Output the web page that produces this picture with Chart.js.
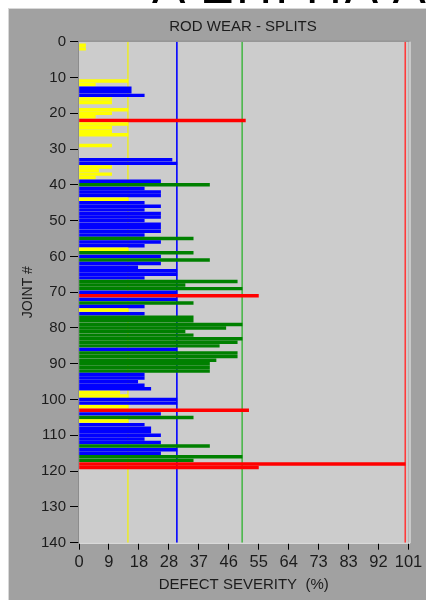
<!DOCTYPE html>
<html>
<head>
<meta charset="utf-8">
<script src="https://cdn.jsdelivr.net/npm/chart.js@4.4.1/dist/chart.umd.min.js"></script>
<style>
  html, body { margin: 0; padding: 0; background: #fff; width: 426px; height: 600px; overflow: hidden; }
  #heading {
    position: absolute; left: 152px; top: -39px;
    font: 50px "Liberation Sans", Arial, sans-serif; line-height: 50px;
    color: #000; white-space: nowrap; letter-spacing: 3px;
  }
  #panel {
    position: absolute; left: 8px; top: 8px; width: 418px; height: 592px;
    background: #a1a1a1; box-shadow: inset 1px 1px 0 #d8d8d8;
  }
  #title {
    position: absolute; left: 135px; top: 9px; width: 200px; text-align: center;
    font: 15px "Liberation Sans", Arial, sans-serif; line-height: 18px; color: #1c1c1c;
  }
  #myChart { position: absolute; left: 0; top: 0; }
</style>
</head>
<body>
<div id="heading">Α ΖΗΓΗΑ ΛΔ</div>
<div id="panel">
  <canvas id="myChart" width="418" height="592"></canvas>
  <div id="title">ROD WEAR - SPLITS</div>
</div>
<script>
// joints that have a split reading, and their severity in %
const joints = [
  1, 2, 11, 12, 13, 14, 15, 16, 17, 19, 20, 21, 22, 23, 24, 25, 26, 29,
  33, 34, 35, 36, 37, 38, 39, 40, 41, 42, 43, 44, 45, 46, 47, 48, 49, 50,
  51, 52, 53, 54, 55, 56, 57, 58, 59, 60, 61, 62, 63, 64, 65, 66, 67, 68,
  69, 70, 71, 72, 73, 74, 75, 76, 77, 78, 79, 80, 81, 82, 83, 84, 85, 86,
  87, 88, 89, 90, 91, 92, 93, 94, 95, 96, 97, 98, 99, 100, 101, 102, 103,
  104, 105, 106, 107, 108, 109, 110, 111, 112, 113, 114, 115, 116, 117, 118, 119
];
const severity = [
  2, 2, 15, 5, 16, 16, 20, 10, 10, 15, 10, 5, 51, 15, 10, 10, 15, 10,
  28.5, 30, 10, 6, 10, 5, 25, 40, 20, 25, 25, 15, 20, 25, 20, 25, 25, 20,
  25, 25, 25, 20, 35, 25, 20, 15, 35, 25, 40, 25, 18, 30, 30, 20, 48.5, 32.5,
  50, 30, 55, 30, 35, 20, 15, 20, 35, 35, 50, 45, 32.5, 35, 50, 48.5, 43, 30,
  48.5, 48.5, 42, 40, 40, 40, 20, 20, 18, 20, 22, 12.5, 15, 30, 30, 15, 52,
  25, 35, 15, 20, 22, 22, 25, 20, 25, 40, 30, 25, 50, 35, 100, 55
];

// severity limits drawn as vertical lines, and the bar colour for each band
const limits = [15, 30, 50, 100];
const limitColors = ["#f4f400", "#0000ff", "#1fb01f", "#ff3b3b"];
const bandColors = ["#ffff00", "#0000ff", "#008000", "#ff0000"];

const xTickValues = [0, 9.18, 18.36, 27.55, 36.73, 45.91, 55.09, 64.27, 73.45, 82.64, 91.82, 101];
const xTickLabels = ["0", "9", "18", "28", "37", "46", "55", "64", "73", "83", "92", "101"];

function bandColor(value) {
  for (let i = 0; i < limits.length; i++) {
    if (value <= limits[i]) return bandColors[i];
  }
  return bandColors[bandColors.length - 1];
}

const fontFamily = '"Liberation Sans", Arial, sans-serif';
const textColor = "#1c1c1c";

// plot background with a sunken border
const plotBackground = {
  id: "plotBackground",
  beforeDatasetsDraw(chart) {
    const { ctx, chartArea: a } = chart;
    ctx.save();
    ctx.fillStyle = "#cccccc";
    ctx.fillRect(a.left, a.top, a.width, a.height);
    ctx.lineWidth = 1;
    ctx.strokeStyle = "#8c8c8c";
    ctx.beginPath();
    ctx.moveTo(a.left - 0.5, a.bottom);
    ctx.lineTo(a.left - 0.5, a.top - 0.5);
    ctx.lineTo(a.right + 1, a.top - 0.5);
    ctx.stroke();
    ctx.strokeStyle = "#f2f2f2";
    ctx.beginPath();
    ctx.moveTo(a.left, a.bottom + 0.5);
    ctx.lineTo(a.right + 1.5, a.bottom + 0.5);
    ctx.lineTo(a.right + 1.5, a.top);
    ctx.stroke();
    ctx.restore();
  }
};

const limitSets = limits.map((limit, i) => ({
  type: "line",
  data: [{ x: limit, y: 0 }, { x: limit, y: 140 }],
  borderColor: limitColors[i],
  borderWidth: i === 0 || i === 2 ? 1.2 : 1.6,
  pointRadius: 0,
  order: 2
}));

const ctx = document.getElementById("myChart");

new Chart(ctx, {
  data: {
    datasets: [
      {
        type: "bar",
        data: joints.map((j, i) => ({ x: severity[i], y: j })),
        backgroundColor: severity.map(bandColor),
        barThickness: 2.8,
        borderWidth: 0,
        order: 1
      },
      ...limitSets
    ]
  },
  options: {
    responsive: false,
    animation: false,
    indexAxis: "y",
    layout: { padding: { top: 33.7, right: 17.5, left: 0, bottom: 0 } },
    plugins: {
      legend: { display: false },
      tooltip: { enabled: false },
      title: { display: false }
    },
    scales: {
      x: {
        type: "linear",
        position: "bottom",
        min: 0,
        max: 101,
        afterBuildTicks: (axis) => {
          axis.ticks = xTickValues.map((v) => ({ value: v }));
        },
        afterFit: (scale) => {
          scale.height = 57.3;
        },
        ticks: {
          callback: (value, index) => xTickLabels[index],
          autoSkip: false,
          maxRotation: 0,
          padding: 3,
          color: textColor,
          font: { family: fontFamily, size: 16.5 }
        },
        grid: { drawOnChartArea: false, tickLength: 7, color: "#000", tickWidth: 1 },
        border: { display: false },
        title: {
          display: true,
          text: "DEFECT SEVERITY  (%)",
          color: textColor,
          font: { family: fontFamily, size: 15 },
          padding: { top: 0, bottom: 6 }
        }
      },
      y: {
        type: "linear",
        reverse: true,
        offset: false,
        min: 0,
        max: 140,
        afterFit: (scale) => {
          scale.width = 71;
        },
        ticks: {
          stepSize: 10,
          padding: 4,
          color: textColor,
          font: { family: fontFamily, size: 15 }
        },
        grid: { offset: false, drawOnChartArea: false, tickLength: 9, color: "#000", tickWidth: 1 },
        border: { display: false },
        title: {
          display: true,
          text: "JOINT #",
          color: textColor,
          font: { family: fontFamily, size: 14 },
          padding: { top: 12 }
        }
      }
    }
  },
  plugins: [plotBackground]
});
</script>
</body>
</html>
